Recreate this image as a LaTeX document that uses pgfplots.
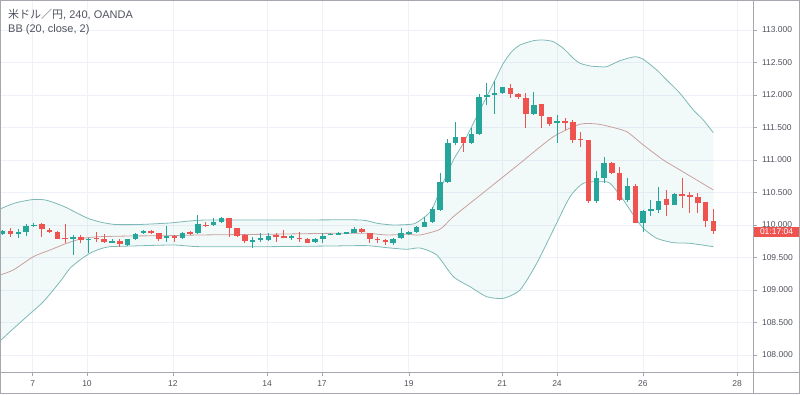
\documentclass[border=0pt]{standalone}
\usepackage{pgfplots}
\pgfplotsset{compat=1.18}
\usepackage{pgfplotstable}
\usepgfplotslibrary{fillbetween}
\usepackage{fontspec}
\setmainfont{Liberation Sans}
\newfontfamily\cjk{Noto Sans CJK JP}
\definecolor{cgreen}{RGB}{38,166,154}
\definecolor{cred}{RGB}{239,83,80}
\definecolor{bandc}{RGB}{125,185,182}
\definecolor{basisc}{RGB}{200,160,160}
\definecolor{gridc}{RGB}{238,241,248}
\definecolor{framec}{RGB}{165,168,175}
\definecolor{labc}{RGB}{80,83,94}

\pgfplotstableread{
i o h l c
1 109.862 109.923 109.846 109.903
3 109.862 109.933 109.795 109.897
4 109.897 110.010 109.831 109.990
5 109.985 110.026 109.974 110.005
10 109.790 109.846 109.538 109.815
12 109.769 109.805 109.564 109.790
15 109.742 109.780 109.728 109.746
17 109.692 109.790 109.677 109.790
18 109.790 109.872 109.769 109.856
19 109.872 109.923 109.862 109.913
22 109.800 109.990 109.744 109.831
24 109.795 109.897 109.780 109.882
26 109.872 110.154 109.862 110.010
28 110.000 110.103 109.990 110.051
29 110.051 110.128 110.036 110.103
33 109.744 109.820 109.650 109.772
34 109.769 109.872 109.744 109.795
35 109.769 109.872 109.759 109.831
38 109.820 109.846 109.769 109.823
41 109.744 109.795 109.718 109.785
42 109.785 109.872 109.728 109.836
43 109.854 109.872 109.846 109.857
44 109.856 109.887 109.846 109.882
45 109.880 109.897 109.872 109.884
46 109.882 109.964 109.882 109.933
51 109.728 109.795 109.692 109.779
52 109.795 109.949 109.785 109.882
53 109.880 109.913 109.846 109.884
54 109.887 109.985 109.872 109.964
55 109.970 110.128 109.964 110.055
56 110.051 110.282 110.026 110.246
57 110.231 110.805 110.221 110.667
58 110.667 111.323 110.651 111.256
59 111.267 111.590 111.231 111.349
61 111.256 111.487 111.246 111.400
62 111.400 112.010 111.385 111.974
63 111.990 112.180 111.846 111.995
64 112.010 112.221 111.703 112.036
65 112.036 112.128 112.010 112.118
69 111.708 112.041 111.692 111.846
72 111.564 111.692 111.267 111.600
77 110.374 110.836 110.344 110.718
78 110.718 111.051 110.641 110.949
81 110.385 110.718 110.359 110.605
83 110.036 110.231 109.897 110.215
84 110.210 110.385 110.138 110.241
85 110.231 110.590 110.179 110.374
87 110.313 110.487 110.308 110.477
}\greentab

\pgfplotstableread{
i o h l c
2 109.913 109.959 109.821 109.862
6 110.015 110.036 109.821 109.933
7 109.923 109.949 109.882 109.892
8 109.897 109.903 109.780 109.790
9 109.797 110.015 109.718 109.793
11 109.821 109.846 109.718 109.769
13 109.797 109.887 109.744 109.793
14 109.780 109.862 109.718 109.738
16 109.759 109.780 109.656 109.708
20 109.903 109.923 109.862 109.872
21 109.872 109.882 109.759 109.790
23 109.831 109.846 109.733 109.810
25 109.892 109.903 109.841 109.872
27 110.005 110.051 109.964 109.990
30 110.103 110.103 109.821 109.959
31 109.959 109.959 109.821 109.836
32 109.846 109.856 109.728 109.759
36 109.846 109.872 109.744 109.821
37 109.836 109.923 109.795 109.805
39 109.805 109.887 109.744 109.779
40 109.785 109.805 109.718 109.728
47 109.933 109.949 109.872 109.887
48 109.882 109.882 109.718 109.779
49 109.790 109.810 109.718 109.769
50 109.769 109.779 109.692 109.733
60 111.349 111.349 111.128 111.256
66 112.113 112.169 111.949 112.010
67 112.010 112.026 111.933 111.964
68 111.949 112.026 111.487 111.708
70 111.856 111.856 111.487 111.677
71 111.656 111.667 111.528 111.549
73 111.592 111.641 111.462 111.588
74 111.579 111.615 111.256 111.308
75 111.318 111.436 111.205 111.315
76 111.308 111.308 110.344 110.374
79 110.949 110.974 110.785 110.805
80 110.805 110.887 110.374 110.385
82 110.600 110.631 110.026 110.026
86 110.395 110.538 110.138 110.308
88 110.464 110.718 110.256 110.459
89 110.462 110.513 110.179 110.426
90 110.426 110.487 110.190 110.344
91 110.359 110.359 109.974 110.062
92 110.062 110.241 109.862 109.913
}\redtab

\pgfplotsset{
  candle/.style 2 args={draw=none, mark=none, forget plot,
    error bars/.cd, y dir=both, y explicit, error mark=none,
    error bar style={line width=#2, draw=#1, solid}},
}

\begin{document}
\begin{tikzpicture}
\begin{axis}[
  at={(1pt,22pt)}, anchor=south west, scale only axis,
  width=752pt, height=371pt,
  xmin=0.78, xmax=97.07, ymin=107.738, ymax=113.446,
  axis line style={draw=none},
  xtick={4.83,11.79,22.8,34.84,41.88,53.0,64.93,71.97,82.98,95.02},
  xticklabels={7,10,12,14,17,19,21,24,26,28},
  ytick={108,108.5,109,109.5,110,110.5,111,111.5,112,112.5,113},
  yticklabels={108.000,108.500,109.000,109.500,110.000,110.500,111.000,111.500,112.000,112.500,113.000},
  xtick pos=left, ytick pos=right, yticklabel pos=right,
  tick align=outside, major tick length=4pt,
  tick style={draw=framec, line width=0.6pt},
  grid=major, major grid style={draw=gridc, line width=0.8pt},
  yticklabel style={font=\fontsize{8.5}{10}\selectfont, text=labc, anchor=west, xshift=1.5pt},
  xticklabel style={font=\fontsize{8.5}{10}\selectfont, text=labc, yshift=-1pt},
  scaled ticks=false,
]
% Bollinger bands
\addplot[name path=up, draw=bandc, line width=0.8pt, smooth, tension=0.4, forget plot] coordinates {
(0.654,110.246) (2.575,110.338) (4.88,110.392) (6.42,110.385) (7.70,110.338) (8.98,110.277) (10.26,110.200) (11.79,110.108) (13.46,110.046) (15.38,110.008) (18.58,110.008) (22.42,110.031) (24.98,110.062) (27.54,110.077) (39.07,110.077) (46.75,110.077) (48.93,110.026) (50.97,110.000) (53.54,110.015) (54.69,110.092) (55.93,110.231) (56.99,110.538) (57.93,110.795) (58.70,111.000) (59.98,111.257) (60.83,111.462) (61.90,111.718) (62.97,111.974) (64.04,112.231) (65.10,112.488) (66.17,112.666) (67.24,112.769) (68.94,112.835) (70.22,112.846) (71.50,112.820) (72.78,112.718) (74.06,112.565) (74.92,112.488) (76.20,112.446) (77.48,112.435) (78.33,112.435) (80.04,112.528) (81.96,112.589) (83.02,112.549) (84.74,112.385) (86.02,112.231) (87.72,112.026) (89.43,111.769) (90.71,111.615) (91.99,111.420)};
\addplot[name path=lo, draw=bandc, line width=0.8pt, smooth, tension=0.4, forget plot] coordinates {
(0.654,108.215) (1.93,108.358) (4.07,108.589) (6.20,108.820) (8.34,109.128) (9.62,109.334) (10.90,109.462) (12.18,109.565) (13.46,109.631) (14.74,109.666) (17.68,109.677) (22.81,109.692) (26.26,109.666) (34.80,109.666) (43.29,109.677) (47.61,109.682) (50.17,109.651) (52.73,109.626) (54.43,109.646) (56.57,109.538) (58.70,109.205) (60.83,109.051) (62.97,108.897) (65.10,108.872) (67.24,109.000) (69.38,109.411) (71.50,109.923) (73.64,110.435) (75.34,110.642) (77.48,110.666) (78.76,110.642) (80.47,110.385) (81.75,110.154) (83.02,109.949) (84.74,109.795) (86.87,109.728) (89.0,109.718) (91.99,109.666)};
\addplot[fill=cgreen, fill opacity=0.06, draw=none, forget plot] fill between[of=up and lo];
\addplot[draw=basisc, line width=0.8pt, smooth, tension=0.4, forget plot] coordinates {
(0.654,109.231) (2.36,109.308) (4.92,109.512) (7.06,109.615) (9.19,109.718) (11.32,109.795) (13.46,109.820) (17.68,109.831) (22.0,109.835) (26.26,109.846) (34.80,109.857) (43.33,109.872) (47.61,109.872) (50.17,109.846) (52.73,109.857) (54.43,109.846) (56.99,109.934) (58.70,110.128) (62.97,110.538) (67.24,110.949) (71.50,111.358) (74.92,111.549) (77.06,111.554) (78.76,111.512) (80.90,111.435) (83.02,111.231) (85.58,111.000) (87.72,110.846) (89.86,110.692) (91.99,110.538)};
% wicks
\addplot[candle={cgreen}{1pt}]
  table[x=i, y expr={(\thisrow{h}+\thisrow{l})/2}, y error expr={(\thisrow{h}-\thisrow{l})/2}] {\greentab};
\addplot[candle={cred}{1pt}]
  table[x=i, y expr={(\thisrow{h}+\thisrow{l})/2}, y error expr={(\thisrow{h}-\thisrow{l})/2}] {\redtab};
% bodies
\addplot[candle={cgreen}{5.5pt}]
  table[x=i, y expr={(\thisrow{o}+\thisrow{c})/2}, y error expr={max(abs(\thisrow{c}-\thisrow{o})/2,0.008)}] {\greentab};
\addplot[candle={cred}{5.5pt}]
  table[x=i, y expr={(\thisrow{o}+\thisrow{c})/2}, y error expr={max(abs(\thisrow{c}-\thisrow{o})/2,0.008)}] {\redtab};
\coordinate (lab) at (axis cs:97.07,109.892);
\end{axis}
\draw[framec, line width=0.6pt] (753pt,0pt) -- (753pt,394pt);
\draw[framec, line width=0.6pt] (0pt,22pt) -- (800pt,22pt);
\draw[framec, line width=0.8pt] (0.4pt,0.4pt) rectangle (799.6pt,393.6pt);
\node[fill=cred, text=white, anchor=west, minimum width=45.5pt, minimum height=10.6pt, inner sep=0pt, font=\fontsize{8.5}{10}\selectfont] at ([xshift=0.6pt]lab) {01:17:04};
\node[anchor=base west, inner sep=0pt, text=labc, font=\fontsize{11}{13}\selectfont] at (8pt,375pt) {{\cjk 米ドル／円}, 240, OANDA};
\node[anchor=base west, inner sep=0pt, text=labc, font=\fontsize{11}{13}\selectfont] at (8pt,361pt) {BB (20, close, 2)};
\pgfresetboundingbox
\useasboundingbox (0pt,0pt) rectangle (800pt,394pt);
\end{tikzpicture}
\end{document}
